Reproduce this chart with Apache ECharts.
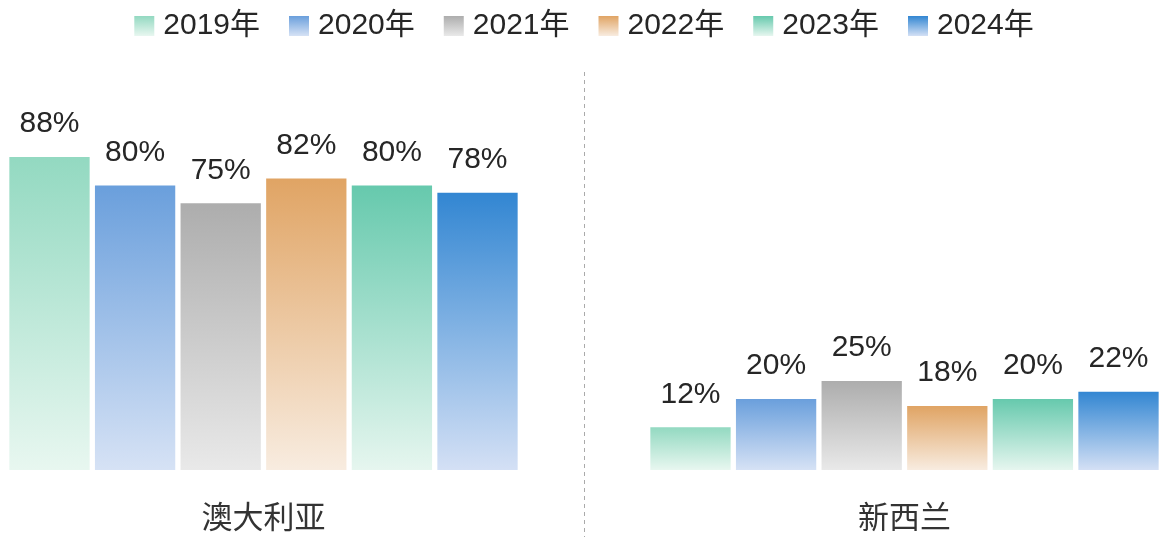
<!DOCTYPE html>
<html>
<head>
<meta charset="utf-8">
<script src="https://cdn.jsdelivr.net/npm/echarts@6/dist/echarts.min.js"></script>
<style>
html,body{margin:0;padding:0;background:#fff;overflow:hidden;width:1171px;height:547px;position:relative}
#main{position:absolute;left:-57px;top:0;width:1282px;height:547px}
</style>
</head>
<body>
<div id="main"></div>
<script>
const categories = ['澳大利亚', '新西兰'];
const seriesNames = ['2019年', '2020年', '2021年', '2022年', '2023年', '2024年'];
const v2019 = [88, 12];
const v2020 = [80, 20];
const v2021 = [75, 25];
const v2022 = [82, 18];
const v2023 = [80, 20];
const v2024 = [78, 22];
const seriesValues = [v2019, v2020, v2021, v2022, v2023, v2024];
const topColors = ['#93d9c1', '#6a9fdc', '#adadad', '#e0a464', '#66c9ad', '#3286d2'];
const bottomColors = ['#e8f7f0', '#d6e2f5', '#e9e9e9', '#f8ece0', '#e6f6ef', '#d4e0f5'];

const FONT = '"Liberation Sans", Arial, "Noto Sans CJK SC", sans-serif';
const chart = echarts.init(document.getElementById('main'), null, {renderer: 'canvas'});

const series = seriesNames.map((name, i) => ({
  name: name,
  type: 'bar',
  xAxisIndex: 0,
  yAxisIndex: 0,
  data: seriesValues[i],
  barGap: '6.6%',
  barCategoryGap: '20.7%',
  itemStyle: {
    color: new echarts.graphic.LinearGradient(0, 0, 0, 1, [
      {offset: 0, color: topColors[i]},
      {offset: 1, color: bottomColors[i]}
    ])
  },
  label: {
    show: true,
    position: 'top',
    distance: 18,
    formatter: '{c}%',
    fontSize: 30,
    color: '#262626',
    fontFamily: FONT
  }
}));

chart.setOption({
  animation: false,
  backgroundColor: '#ffffff',
  legend: {
    top: 6,
    left: 'center',
    icon: 'rect',
    itemWidth: 20,
    itemHeight: 20,
    itemGap: 29,
    textStyle: {fontSize: 30, color: '#262626', fontFamily: FONT, padding: [0, 0, 0, 4]},
    data: seriesNames
  },
  grid: [
    {left: 0, right: 0, top: 114.4, bottom: 77},
    {left: 0, right: 0, top: 72, bottom: 10}
  ],
  xAxis: [
    {
      type: 'category',
      gridIndex: 0,
      data: categories,
      axisLine: {show: false},
      axisTick: {show: false},
      axisLabel: {fontSize: 31, color: '#333333', margin: 34, fontFamily: FONT}
    },
    {
      type: 'category',
      gridIndex: 1,
      data: categories,
      axisLine: {show: false},
      axisTick: {show: false},
      axisLabel: {show: false},
      splitLine: {show: true, lineStyle: {color: '#aaaaaa', type: [4, 4], width: 1}}
    }
  ],
  yAxis: [
    {type: 'value', gridIndex: 0, min: 0, max: 100, show: false},
    {type: 'value', gridIndex: 1, min: 0, max: 100, show: false}
  ],
  series: series
});
</script>
</body>
</html>
